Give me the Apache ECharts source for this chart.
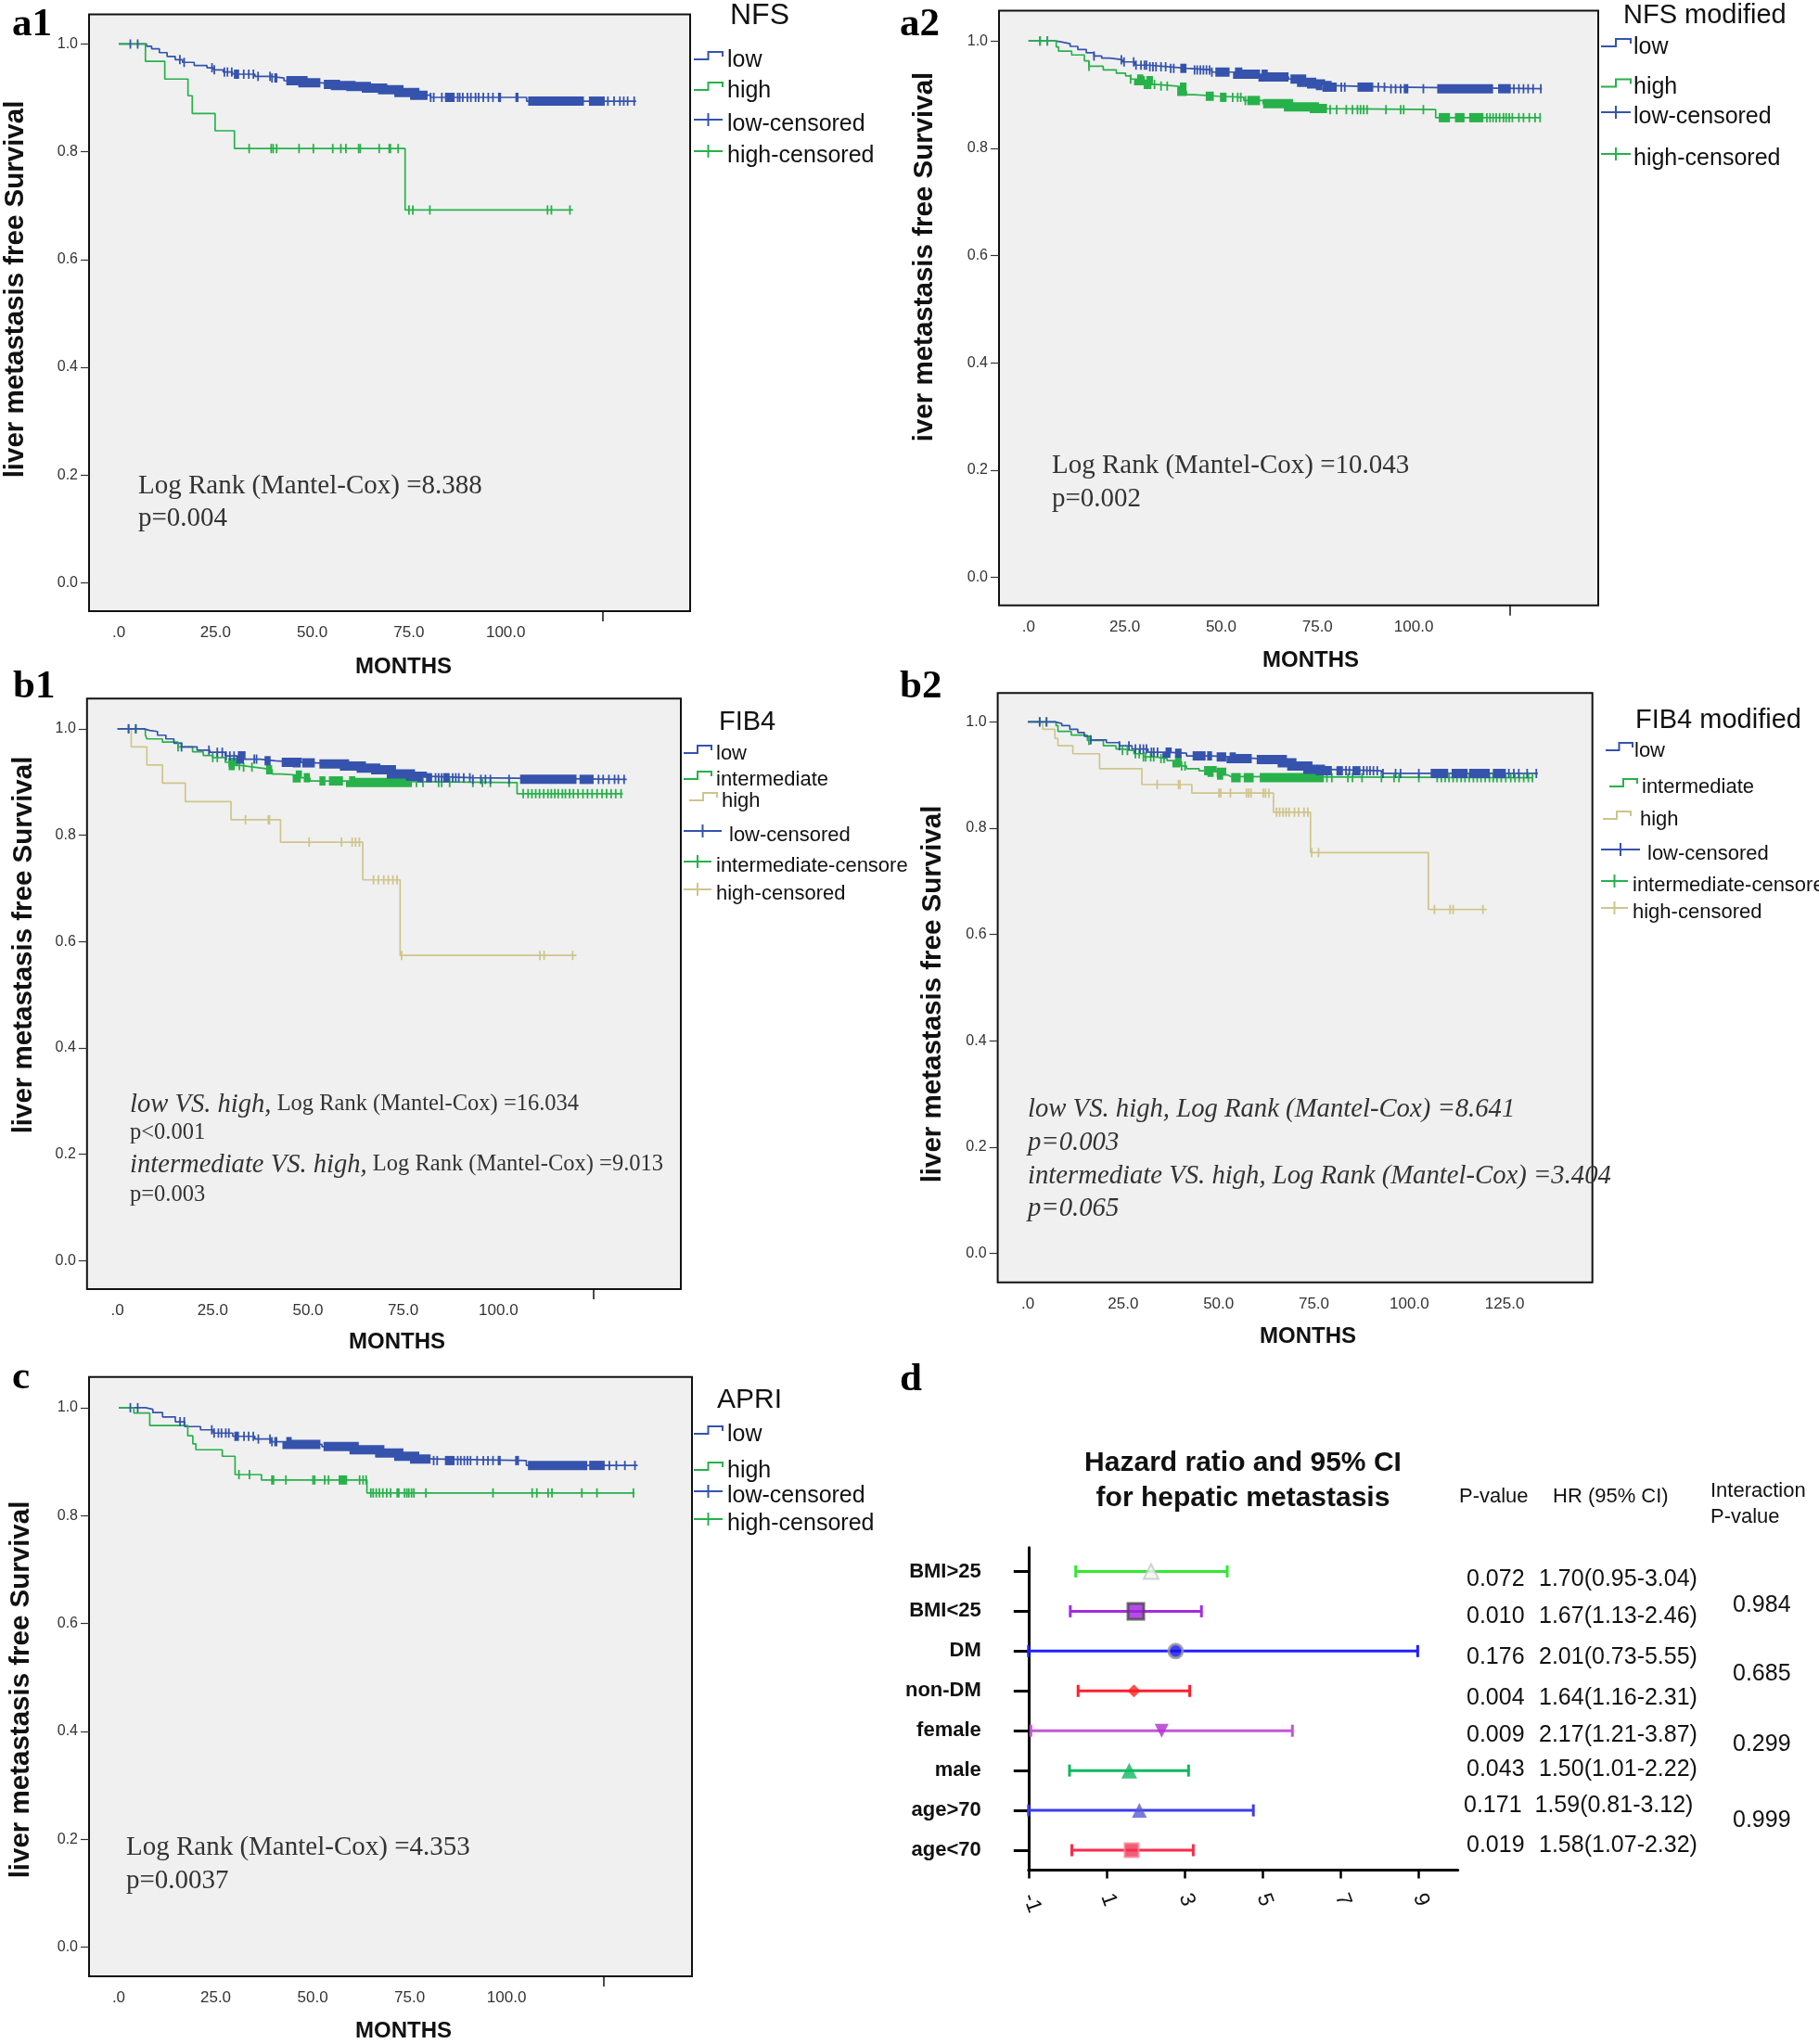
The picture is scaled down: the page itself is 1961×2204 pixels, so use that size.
<!DOCTYPE html>
<html>
<head>
<meta charset="utf-8">
<title>Liver metastasis free survival</title>
<script src="https://cdn.jsdelivr.net/npm/echarts@6.0.0/dist/echarts.min.js"></script>
<style>
html,body{margin:0;padding:0;background:#ffffff;}
#chart{width:1961px;height:2204px;}
</style>
</head>
<body>
<div id="chart"></div>
<script>
// ================= DATA =================
const monthLabels = [0, 25, 50, 75, 100];
const monthLabelsB2 = [0, 25, 50, 75, 100, 125];
const survLabels = [0, 0.2, 0.4, 0.6, 0.8, 1.0];

// ---- a1 : NFS ---- steps = [month, survival after event]; last point = end of follow-up
const a1LowSteps = [[0,1],[7.2,0.996],[8.5,0.991],[10.5,0.984],[12.5,0.977],[14.6,0.971],[16.5,0.966],[19.5,0.960],[22.8,0.956],[24.5,0.952],[27,0.948],[29.4,0.944],[35.2,0.940],[39.4,0.937],[42.7,0.932],[47.6,0.928],[52.6,0.925],[56,0.923],[60,0.921],[64,0.918],[68.2,0.915],[72.4,0.910],[76.5,0.905],[80.6,0.901],[105.4,0.894],[133.7,0.894]];
const a1LowCensor = [3.0,4.9,15.8,16.9,24.1,24.7,27.3,28.1,29.2,30.0,32.3,33.6,34.8,36.0,39.1,39.6,80.6,81.4,83.5,87.6,88.1,88.9,90.1,91.0,92.2,93.0,94.2,95.5,96.7,126.4,128.0,129.5,130.5,131.5,133.2];
const a1LowCensorRuns = [[29.9,31.1],[40.2,41.0],[43.3,52.1],[53.0,79.8],[84.3,86.8],[98.0,98.8],[102.5,103.3],[105.8,120.2],[121.5,125.6]];
const a1HighSteps = [[0,1],[6.9,0.968],[11.9,0.935],[17.9,0.904],[19.0,0.871],[24.9,0.839],[29.9,0.806],[74.0,0.692],[117.4,0.692]];
const a1HighCensor = [33.7,39.4,39.9,40.8,46.6,50.3,55.3,57.4,58.7,62.0,62.4,67.3,69.9,70.2,72.2,75.0,76.0,80.4,110.8,111.8,116.6];
const a1HighCensorRuns = [];

// ---- a2 : NFS modified ----
const a2LowSteps = [[0,1],[7.0,0.998],[8.7,0.995],[10.8,0.990],[12.8,0.984],[15,0.978],[17.0,0.972],[19,0.968],[21.1,0.965],[24.4,0.961],[27.7,0.955],[31.1,0.952],[36.0,0.949],[41.0,0.946],[47.6,0.942],[54.3,0.938],[60.9,0.933],[67.5,0.929],[70.9,0.923],[73.5,0.920],[75.8,0.917],[77.5,0.914],[93.2,0.911],[133.3,0.911]];
const a2LowCensor = [3.0,4.9,17.0,24.1,24.8,27.3,27.9,29.2,30.1,30.6,31.5,32.3,33.1,34.4,35.6,36.9,37.7,43.1,43.8,44.6,45.4,46.2,47.0,47.6,81.2,82.1,90.8,92.4,94.1,95.3,96.6,102.5,126.0,127.3,128.5,129.7,131.0,133.0];
const a2LowCensorRuns = [[39.4,41.0],[48.5,52.2],[53.6,60.1],[60.5,67.5],[68.0,76.3],[76.7,80.0],[85.4,89.5],[97.4,98.6],[106.1,120.6],[121.9,125.2]];
const a2HighSteps = [[0,1],[7.2,0.989],[7.8,0.981],[11.2,0.974],[14.5,0.963],[15.7,0.953],[19.4,0.946],[22.8,0.940],[25.2,0.935],[26.5,0.929],[28.6,0.926],[31.1,0.919],[33.5,0.916],[38.5,0.914],[39.8,0.906],[41.0,0.900],[43.1,0.897],[49.3,0.895],[55.9,0.889],[60.9,0.883],[67.5,0.877],[74.2,0.874],[77.5,0.872],[105.7,0.857],[133.0,0.857]];
const a2HighCensor = [3.0,4.9,15.7,26.5,32.7,34.4,36.0,53.0,54.3,55.1,56.3,78.3,80.0,82.5,84.1,85.4,86.2,87.0,87.9,92.8,96.6,97.4,102.5,119.0,119.8,120.6,121.4,122.3,123.3,124.0,124.8,125.6,127.3,128.5,130.0,131.5,132.8];
const a2HighCensorRuns = [[28.2,30.2],[30.6,31.9],[39.3,41.0],[46.0,48.1],[49.7,51.4],[56.8,60.1],[60.9,77.5],[106.5,109.4],[110.7,113.2],[114.4,118.1]];

// ---- b1 : FIB4 ----
const b1LowSteps = [[0,1],[6.9,0.997],[8.5,0.995],[10.5,0.988],[12.7,0.981],[14.8,0.973],[16.8,0.966],[20.9,0.960],[24.2,0.956],[28.3,0.949],[32.4,0.943],[37.4,0.940],[41.5,0.937],[47.2,0.936],[52.2,0.934],[59.6,0.930],[64,0.926],[67.8,0.923],[71.9,0.915],[76.9,0.911],[80,0.908],[93.3,0.905],[133.7,0.905]];
const b1LowCensor = [2.9,4.8,16.8,24.0,26.2,27.5,28.5,29.5,30.6,35.9,36.5,83.5,84.3,85.1,88.0,88.8,89.6,90.9,92.5,93.3,95.4,96.6,97.9,102.8,126.3,127.5,129.0,130.5,131.5,133.0];
const b1LowCensorRuns = [[31.6,33.2],[38.6,40.2],[43.1,48.1],[48.5,51.8],[53.0,80.2],[81.0,82.6],[85.5,87.2],[105.7,120.5],[121.3,125.0]];
const b1IntSteps = [[0,1],[7.3,0.989],[7.7,0.981],[11.8,0.975],[15.9,0.966],[19.7,0.957],[22.5,0.950],[25.0,0.946],[28.3,0.937],[30.4,0.931],[32.4,0.928],[35.7,0.925],[39.0,0.923],[40.6,0.915],[43.1,0.913],[47.2,0.908],[50.5,0.902],[61.2,0.899],[104.9,0.878],[132.7,0.878]];
const b1IntCensor = [2.9,4.8,15.9,25.0,26.2,32.0,33.1,35.3,78.5,80.2,84.3,85.1,87.2,93.3,95.8,97.9,102.8,106.5,107.8,108.8,109.8,110.8,111.9,113.0,113.9,114.8,115.7,116.8,117.6,118.7,119.7,120.9,122.2,123.4,124.6,125.9,127.2,128.4,129.6,130.8,132.2];
const b1IntCensorRuns = [[29.1,30.8],[39.0,40.6],[46.8,48.1],[48.9,50.5],[53.0,54.6],[55.5,59.2],[60.8,77.3]];
const b1HighSteps = [[0,1],[3.6,0.966],[7.7,0.932],[11.8,0.898],[17.8,0.863],[29.8,0.829],[42.8,0.787],[64.4,0.716],[74.2,0.574],[120.5,0.574]];
const b1HighCensor = [33.6,39.6,39.9,50.3,58.8,61.6,62.5,63.5,67.2,68.5,69.9,71.1,72.3,73.4,74.6,110.9,112.0,119.5];
const b1HighCensorRuns = [];

// ---- b2 : FIB4 modified ----
const b2LowSteps = [[0,1],[7.1,0.997],[8.9,0.993],[11,0.986],[13.1,0.980],[14.8,0.973],[16.5,0.966],[20.6,0.961],[24.0,0.955],[27.3,0.949],[31.5,0.943],[36.5,0.941],[41.6,0.936],[48.3,0.934],[53.3,0.931],[60.0,0.929],[66.7,0.923],[69.2,0.917],[73.4,0.911],[76.7,0.908],[92.7,0.903],[133.7,0.903]];
const b2LowCensor = [3.1,4.9,16.5,24.0,26.5,28.2,29.4,30.3,31.1,32.4,33.0,34.0,83.4,84.3,88.0,88.9,89.7,90.6,91.6,93.1,96.4,97.7,102.5,126.1,127.4,128.7,130.9,133.3];
const b2LowCensorRuns = [[36.1,37.4],[38.6,40.3],[43.2,46.6],[47.0,48.3],[49.5,52.0],[52.9,58.7],[60.0,79.7],[80.9,82.6],[85.1,87.2],[105.6,110.2],[111.1,115.3],[115.7,121.1],[121.9,125.3]];
const b2IntSteps = [[0,1],[7.4,0.993],[7.9,0.982],[11.4,0.975],[15.6,0.965],[19.8,0.955],[23.1,0.949],[24.8,0.946],[27.8,0.940],[30.3,0.934],[33.2,0.931],[36.5,0.927],[39.1,0.923],[39.9,0.917],[41.6,0.912],[44.9,0.908],[48.3,0.905],[50.8,0.900],[52.5,0.897],[53.3,0.895],[132.5,0.895]];
const b2IntCensor = [3.1,4.9,16.0,24.8,26.1,28.2,29.2,30.3,30.9,32.2,33.0,34.9,35.7,40.3,41.2,78.4,79.7,83.9,85.1,87.6,92.7,96.0,97.3,102.5,107.3,108.4,109.4,110.4,111.5,112.5,113.6,114.6,115.7,116.8,117.8,118.8,119.9,121.0,122.0,123.0,124.1,125.3,126.6,127.7,128.8,130.0,131.2,132.3];
const b2IntCensorRuns = [[38.6,39.9],[46.2,48.7],[49.5,51.2],[53.3,55.8],[56.6,59.2],[60.8,77.6]];
const b2HighSteps = [[0,1],[3.9,0.986],[7.1,0.969],[7.9,0.955],[11.8,0.940],[18.8,0.912],[29.9,0.882],[43.0,0.866],[64.4,0.830],[74.1,0.754],[105.0,0.647],[120.3,0.647]];
const b2HighCensor = [33.9,39.5,39.9,50.1,50.6,53.1,57.3,57.9,58.5,61.7,62.3,63.2,65.2,66.0,66.9,67.7,68.5,69.9,71.0,72.4,73.4,74.4,76.2,106.6,110.7,111.5,119.3];
const b2HighCensorRuns = [];

// ---- c : APRI ----
const cLowSteps = [[0,1],[6.9,0.997],[8.8,0.991],[11.3,0.983],[14.6,0.974],[17.0,0.965],[21.1,0.959],[24.4,0.953],[29.4,0.947],[35.1,0.942],[39.3,0.937],[43.4,0.932],[52.4,0.928],[60.7,0.922],[67.3,0.916],[72.2,0.910],[76.3,0.905],[80.4,0.902],[105.1,0.893],[133.8,0.893]];
const cLowCensor = [3.0,4.9,15.8,16.9,24.0,24.6,25.7,26.5,27.6,28.4,32.3,33.5,34.7,36.0,39.0,39.5,81.2,82.1,87.4,88.2,89.1,89.9,90.7,92.4,94.0,95.2,96.5,126.5,128.3,130.5,133.1];
const cLowCensorRuns = [[29.8,31.0],[40.1,40.9],[43.2,52.0],[52.8,80.4],[84.1,86.6],[97.7,98.5],[102.2,103.2],[105.5,120.8],[121.3,125.3]];
const cHighSteps = [[0,1],[3.9,0.990],[8.0,0.967],[17.8,0.948],[19.1,0.933],[19.9,0.922],[26.7,0.910],[30.0,0.876],[36.8,0.866],[64.0,0.842],[133.0,0.842]];
const cHighCensor = [31.0,33.7,39.5,39.9,43.1,50.1,50.5,53.1,54.1,62.1,63.0,63.8,65.0,65.6,66.4,67.2,68.1,69.1,70.1,71.8,72.2,73.7,74.3,74.8,75.5,76.1,79.2,96.5,106.6,107.8,110.7,111.7,119.4,123.3,132.7];
const cHighCensorRuns = [[56.7,58.9]];

// ---- annotations ----
const a1Stat = ['Log Rank (Mantel-Cox) =8.388', 'p=0.004'];
const a2Stat = ['Log Rank (Mantel-Cox) =10.043', 'p=0.002'];
const b1Stat = ['low VS. high,', ' Log Rank (Mantel-Cox) =16.034', 'p<0.001', 'intermediate VS. high,', ' Log Rank (Mantel-Cox) =9.013', 'p=0.003'];
const b2Stat = ['low VS. high, Log Rank (Mantel-Cox) =8.641', 'p=0.003', 'intermediate VS. high, Log Rank (Mantel-Cox) =3.404', 'p=0.065'];
const cStat = ['Log Rank (Mantel-Cox) =4.353', 'p=0.0037'];

// ---- d : forest plot ----
const fpCategories = ['BMI>25','BMI<25','DM','non-DM','female','male','age>70','age<70'];
const fpLow  = [0.21, 0.07, -1.00, 0.27, -0.94, 0.05, -1.00, 0.11];
const fpHigh = [4.09, 3.43,  8.97, 3.13,  5.76, 3.10,  4.76, 3.22];
const fpMid  = [2.14, 1.75,  2.77, 1.70,  2.41, 1.58,  1.84, 1.64];
const fpTicks = [-1, 1, 3, 5, 7, 9];
const fpPValues = ['0.072','0.010','0.176','0.004','0.009','0.043','0.171','0.019'];
const fpHR = ['1.70(0.95-3.04)','1.67(1.13-2.46)','2.01(0.73-5.55)','1.64(1.16-2.31)','2.17(1.21-3.87)','1.50(1.01-2.22)','1.59(0.81-3.12)','1.58(1.07-2.32)'];
const fpInteraction = ['0.984','0.685','0.299','0.999'];

// ================= STYLE =================
const SANS = "'Liberation Sans', Arial, Helvetica, sans-serif";
const SERIF = "'Liberation Serif', 'Times New Roman', serif";
const BLUE = '#3553ad', GREEN = '#27b14a', TAN = '#cfc58c';
const TXT = '#2a2a2a';

function survAt(steps, t) {
  let s = steps[0][1];
  for (const p of steps) { if (p[0] <= t) s = p[1]; else break; }
  return s;
}

const grids = [], xAxes = [], yAxes = [], series = [], graphics = [];

function tickRender(color) {
  return function (params, api) {
    const p = api.coord([api.value(0), api.value(1)]);
    return { type: 'line', shape: { x1: p[0], y1: p[1] - 5, x2: p[0], y2: p[1] + 5 },
      style: { stroke: color, lineWidth: 1.8 } };
  };
}
function runRender(steps, color) {
  return function (params, api) {
    const t1 = api.value(0), t2 = api.value(1);
    let s = survAt(steps, t1);
    const pts = [api.coord([t1, s])];
    for (const p of steps) {
      if (p[0] > t1 && p[0] < t2 && p[1] !== s) {
        pts.push(api.coord([p[0], s]));
        pts.push(api.coord([p[0], p[1]]));
        s = p[1];
      }
    }
    pts.push(api.coord([t2, s]));
    return { type: 'polyline', shape: { points: pts },
      style: { stroke: color, lineWidth: 10, fill: null, lineJoin: 'miter', lineCap: 'butt' } };
  };
}

function addPanel(idx, rect, xr, yr, xLabelVals, xTickVals, curves) {
  grids.push({ left: rect[0], top: rect[1], width: rect[2] - rect[0], height: rect[3] - rect[1],
    show: true, backgroundColor: '#f0f0f0', borderColor: '#111', borderWidth: 2 });
  xAxes.push({ type: 'value', gridIndex: idx, min: xr[0], max: xr[1],
    axisLine: { show: false, onZero: false }, splitLine: { show: false },
    axisTick: { show: xTickVals.length > 0, customValues: xTickVals, length: 11, lineStyle: { color: '#111', width: 1.5 } },
    axisLabel: { customValues: xLabelVals, formatter: v => (v === 0 ? '.0' : v.toFixed(1)),
      fontSize: 17, fontFamily: SANS, color: '#333', margin: 15 } });
  yAxes.push({ type: 'value', gridIndex: idx, min: yr[0], max: yr[1],
    axisLine: { show: false, onZero: false }, splitLine: { show: false },
    axisTick: { show: true, customValues: survLabels, length: 9, lineStyle: { color: '#333', width: 1.2 } },
    axisLabel: { customValues: survLabels, formatter: v => v.toFixed(1),
      fontSize: 16, fontFamily: SANS, color: '#333', margin: 12 } });
  for (const c of curves) {
    series.push({ type: 'line', xAxisIndex: idx, yAxisIndex: idx, data: c.steps, step: 'end',
      symbol: 'none', showSymbol: false, silent: true, z: 3,
      lineStyle: { color: c.color, width: 1.7 } });
    if (c.runs.length) {
      series.push({ type: 'custom', xAxisIndex: idx, yAxisIndex: idx, data: c.runs, silent: true, z: 4,
        renderItem: runRender(c.steps, c.color) });
    }
    series.push({ type: 'custom', xAxisIndex: idx, yAxisIndex: idx, silent: true, z: 4,
      data: c.censor.map(t => [t, survAt(c.steps, t)]), renderItem: tickRender(c.color) });
  }
}

function txt(x, y, text, size, opts) {
  opts = opts || {};
  return { type: 'text', x: x, y: y, rotation: opts.rotation || 0, z: 100,
    style: Object.assign({ text: text, fontSize: size, fontFamily: opts.family || SANS,
      fontWeight: opts.weight || 'normal', fontStyle: opts.style || 'normal',
      fill: opts.fill || TXT, align: opts.align || 'left', verticalAlign: 'middle' }, opts.extra || {}) };
}

function legend(titleText, tx, ty, tsize, items, fsize) {
  graphics.push(txt(tx, ty, titleText, tsize, { fill: '#111' }));
  for (const it of items) {
    const c = it.y, xm = (it.s1 + it.s2) / 2;
    if (it.kind === 'step') {
      graphics.push({ type: 'polyline', z: 100,
        shape: { points: [[it.s1, c - 1], [xm, c - 1], [xm, c - 9], [it.s2, c - 9], [it.s2, c - 4]] },
        style: { stroke: it.color, lineWidth: 2, fill: null } });
    } else {
      graphics.push({ type: 'line', z: 100, shape: { x1: it.s1, y1: c - 5, x2: it.s2, y2: c - 5 }, style: { stroke: it.color, lineWidth: 2 } });
      graphics.push({ type: 'line', z: 100, shape: { x1: xm, y1: c - 12, x2: xm, y2: c + 2 }, style: { stroke: it.color, lineWidth: 2 } });
    }
    const extra = it.maxW ? { width: it.maxW, overflow: 'truncate', ellipsis: '' } : {};
    graphics.push(txt(it.tx, c, it.label, fsize, { fill: '#111', extra: extra }));
  }
}

// ================= PANELS =================
addPanel(0, [96, 15.4, 744, 659], [-7.67, 147.65], [-0.0525, 1.0552], monthLabels, [125], [
  { steps: a1LowSteps, censor: a1LowCensor, runs: a1LowCensorRuns, color: BLUE },
  { steps: a1HighSteps, censor: a1HighCensor, runs: a1HighCensorRuns, color: GREEN }]);
addPanel(1, [1077, 11.6, 1723, 652.7], [-7.66, 147.9], [-0.0524, 1.0564], monthLabels, [125], [
  { steps: a2LowSteps, censor: a2LowCensor, runs: a2LowCensorRuns, color: BLUE },
  { steps: a2HighSteps, censor: a2HighCensor, runs: a2HighCensorRuns, color: GREEN }]);
addPanel(2, [93.8, 753.3, 734, 1390], [-8.01, 147.9], [-0.0534, 1.0568], monthLabels, [125], [
  { steps: b1HighSteps, censor: b1HighCensor, runs: b1HighCensorRuns, color: TAN },
  { steps: b1IntSteps, censor: b1IntCensor, runs: b1IntCensorRuns, color: GREEN },
  { steps: b1LowSteps, censor: b1LowCensor, runs: b1LowCensorRuns, color: BLUE }]);
addPanel(3, [1075.6, 747.2, 1716.7, 1382.7], [-7.9, 148.0], [-0.0544, 1.0544], monthLabelsB2, [], [
  { steps: b2HighSteps, censor: b2HighCensor, runs: b2HighCensorRuns, color: TAN },
  { steps: b2IntSteps, censor: b2IntCensor, runs: b2IntCensorRuns, color: GREEN },
  { steps: b2LowSteps, censor: b2LowCensor, runs: b2LowCensorRuns, color: BLUE }]);
addPanel(4, [96, 1484.7, 746, 2131], [-7.65, 147.8], [-0.0542, 1.0571], monthLabels, [125], [
  { steps: cLowSteps, censor: cLowCensor, runs: cLowCensorRuns, color: BLUE },
  { steps: cHighSteps, censor: cHighCensor, runs: cHighCensorRuns, color: GREEN }]);

// axis titles
const YT = 'liver metastasis free Survival';
graphics.push(txt(17, 312, YT, 29.5, { weight: 'bold', rotation: Math.PI / 2, align: 'center', fill: '#111' }));
graphics.push(txt(997, 277, 'iver metastasis free Survival', 29.5, { weight: 'bold', rotation: Math.PI / 2, align: 'center', fill: '#111' }));
graphics.push(txt(26, 1019, YT, 29.5, { weight: 'bold', rotation: Math.PI / 2, align: 'center', fill: '#111' }));
graphics.push(txt(1006, 1072, YT, 29.5, { weight: 'bold', rotation: Math.PI / 2, align: 'center', fill: '#111' }));
graphics.push(txt(23, 1822, YT, 29.5, { weight: 'bold', rotation: Math.PI / 2, align: 'center', fill: '#111' }));
[[435, 719], [1413, 712], [428, 1447], [1410, 1441], [435, 2190]].forEach(p =>
  graphics.push(txt(p[0], p[1], 'MONTHS', 24, { weight: 'bold', align: 'center', fill: '#111' })));

// panel letters
[['a1', 13, 27], ['a2', 970, 27], ['b1', 14, 741], ['b2', 970, 741], ['c', 13, 1486], ['d', 970, 1488]].forEach(p =>
  graphics.push(txt(p[1], p[2], p[0], 43, { family: SERIF, weight: 'bold', fill: '#000' })));

// legends
legend('NFS', 787, 17, 32, [
  { label: 'low', color: BLUE, kind: 'step', y: 65, s1: 748, s2: 779, tx: 784 },
  { label: 'high', color: GREEN, kind: 'step', y: 98, s1: 748, s2: 779, tx: 784 },
  { label: 'low-censored', color: BLUE, kind: 'cross', y: 134, s1: 748, s2: 779, tx: 784 },
  { label: 'high-censored', color: GREEN, kind: 'cross', y: 168, s1: 748, s2: 779, tx: 784 }], 25);
legend('NFS modified', 1750, 17, 29, [
  { label: 'low', color: BLUE, kind: 'step', y: 51, s1: 1726, s2: 1758, tx: 1761 },
  { label: 'high', color: GREEN, kind: 'step', y: 94.5, s1: 1726, s2: 1758, tx: 1761 },
  { label: 'low-censored', color: BLUE, kind: 'cross', y: 126, s1: 1726, s2: 1758, tx: 1761 },
  { label: 'high-censored', color: GREEN, kind: 'cross', y: 171, s1: 1726, s2: 1758, tx: 1761 }], 25);
legend('FIB4', 775, 779, 29, [
  { label: 'low', color: BLUE, kind: 'step', y: 813, s1: 737, s2: 767, tx: 772 },
  { label: 'intermediate', color: GREEN, kind: 'step', y: 841, s1: 737, s2: 767, tx: 772 },
  { label: 'high', color: TAN, kind: 'step', y: 864, s1: 743, s2: 773, tx: 778 },
  { label: 'low-censored', color: BLUE, kind: 'cross', y: 901, s1: 737, s2: 778, tx: 786 },
  { label: 'intermediate-censored', color: GREEN, kind: 'cross', y: 934, s1: 737, s2: 767, tx: 772, maxW: 214 },
  { label: 'high-censored', color: TAN, kind: 'cross', y: 964, s1: 737, s2: 767, tx: 772 }], 22);
legend('FIB4 modified', 1763, 777, 29, [
  { label: 'low', color: BLUE, kind: 'step', y: 810, s1: 1731, s2: 1760, tx: 1762 },
  { label: 'intermediate', color: GREEN, kind: 'step', y: 849, s1: 1735, s2: 1765, tx: 1770 },
  { label: 'high', color: TAN, kind: 'step', y: 884, s1: 1728, s2: 1758, tx: 1768 },
  { label: 'low-censored', color: BLUE, kind: 'cross', y: 921, s1: 1726, s2: 1768, tx: 1776 },
  { label: 'intermediate-censored', color: GREEN, kind: 'cross', y: 955, s1: 1726, s2: 1755, tx: 1760 },
  { label: 'high-censored', color: TAN, kind: 'cross', y: 984, s1: 1726, s2: 1755, tx: 1760 }], 22);
legend('APRI', 773, 1510, 30, [
  { label: 'low', color: BLUE, kind: 'step', y: 1547, s1: 748, s2: 779, tx: 784 },
  { label: 'high', color: GREEN, kind: 'step', y: 1586, s1: 748, s2: 779, tx: 784 },
  { label: 'low-censored', color: BLUE, kind: 'cross', y: 1613, s1: 748, s2: 779, tx: 784 },
  { label: 'high-censored', color: GREEN, kind: 'cross', y: 1643, s1: 748, s2: 779, tx: 784 }], 25);

// statistics annotations
const SER = { family: SERIF, fill: '#333' };
graphics.push(txt(149, 524, a1Stat[0], 29, SER), txt(149, 559, a1Stat[1], 29, SER));
graphics.push(txt(1134, 502, a2Stat[0], 29, SER), txt(1134, 538, a2Stat[1], 29, SER));
graphics.push(txt(136, 1992, cStat[0], 29, SER), txt(136, 2028, cStat[1], 29, SER));
const richB1 = { i: { fontFamily: SERIF, fontStyle: 'italic', fontSize: 28.6, fill: '#333' },
                 r: { fontFamily: SERIF, fontSize: 24.5, fill: '#333' } };
graphics.push(txt(140, 1191, '{i|' + b1Stat[0] + '}{r|' + b1Stat[1] + '}', 24.5, { family: SERIF, extra: { rich: richB1 } }));
graphics.push(txt(140, 1222, b1Stat[2], 24.5, SER));
graphics.push(txt(140, 1256, '{i|' + b1Stat[3] + '}{r|' + b1Stat[4] + '}', 24.5, { family: SERIF, extra: { rich: richB1 } }));
graphics.push(txt(140, 1289, b1Stat[5], 24.5, SER));
const IT = { family: SERIF, style: 'italic', fill: '#333' };
graphics.push(txt(1108, 1196, b2Stat[0], 28.7, IT), txt(1108, 1232, b2Stat[1], 28.7, IT),
              txt(1108, 1268, b2Stat[2], 28.7, IT), txt(1108, 1303, b2Stat[3], 28.7, IT));

// ================= FOREST PLOT (d) =================
const FP_COLORS = ['#33e833', '#a52be0', '#1f1fff', '#ff1f2f', '#c455d4', '#10b860', '#3b3bee', '#ff2a4a'];
const FP_SYMBOLS = ['triangle', 'rect', 'circle', 'diamond', 'path://M0,0L10,0L5,9Z', 'triangle', 'triangle', 'rect'];
const FP_SIZES = [16, 17, 15, 14, 15, 17, 16, 15];
const FP_ITEM = [
  { color: '#f2f2f2', borderColor: '#c8c8c8', borderWidth: 2 },
  { color: '#a020e0', borderColor: '#4a4a4a', borderWidth: 3 },
  { color: '#1010ee', borderColor: '#9a9a9a', borderWidth: 3 },
  { color: '#ff2020' },
  { color: '#b030d0' },
  { color: '#10b860' },
  { color: '#5a5ad8' },
  { color: '#ee3355', borderColor: '#ff8899', borderWidth: 2 }];
grids.push({ left: 1108.8, top: 1668.7, width: 462.9, height: 347.8, show: false });
xAxes.push({ type: 'value', gridIndex: 5, min: -1, max: 10,
  axisLine: { onZero: false, lineStyle: { color: '#000', width: 3 } }, splitLine: { show: false },
  axisTick: { customValues: fpTicks, length: 9, lineStyle: { color: '#000', width: 2.5 } },
  axisLabel: { customValues: fpTicks, rotate: -70, fontSize: 23, fontFamily: SANS, color: '#111', margin: 26 } });
yAxes.push({ type: 'value', gridIndex: 5, min: -0.6, max: 7.5, inverse: true,
  axisLine: { onZero: false, lineStyle: { color: '#000', width: 3 } }, splitLine: { show: false },
  axisTick: { customValues: [0, 1, 2, 3, 4, 5, 6, 7], length: 16, lineStyle: { color: '#000', width: 3 } },
  axisLabel: { customValues: [0, 1, 2, 3, 4, 5, 6, 7], formatter: v => fpCategories[Math.round(v)],
    fontSize: 22, fontWeight: 'bold', fontFamily: SANS, color: '#111', margin: 51 } });
series.push({ type: 'custom', xAxisIndex: 5, yAxisIndex: 5, silent: true, z: 4,
  data: fpCategories.map((c, i) => [fpLow[i], fpHigh[i], i]),
  renderItem: function (params, api) {
    const i = api.value(2);
    const a = api.coord([api.value(0), i]), b = api.coord([api.value(1), i]);
    const st = { stroke: FP_COLORS[i], lineWidth: 3 };
    return { type: 'group', children: [
      { type: 'line', shape: { x1: a[0], y1: a[1], x2: b[0], y2: b[1] }, style: st },
      { type: 'line', shape: { x1: a[0], y1: a[1] - 6.5, x2: a[0], y2: a[1] + 6.5 }, style: st },
      { type: 'line', shape: { x1: b[0], y1: b[1] - 6.5, x2: b[0], y2: b[1] + 6.5 }, style: st }] };
  } });
series.push({ type: 'scatter', xAxisIndex: 5, yAxisIndex: 5, silent: true, z: 5,
  data: fpMid.map((m, i) => ({ value: [m, i], symbol: FP_SYMBOLS[i], symbolSize: FP_SIZES[i], itemStyle: FP_ITEM[i] })) });

graphics.push(txt(1340, 1578, 'Hazard ratio and 95% CI', 30, { weight: 'bold', align: 'center', fill: '#111' }));
graphics.push(txt(1340, 1616, 'for hepatic metastasis', 30, { weight: 'bold', align: 'center', fill: '#111' }));
graphics.push(txt(1573, 1614, 'P-value', 22, { fill: '#111' }));
graphics.push(txt(1674, 1614, 'HR (95% CI)', 22, { fill: '#111' }));
graphics.push(txt(1844, 1608, 'Interaction', 22, { fill: '#111' }));
graphics.push(txt(1844, 1636, 'P-value', 22, { fill: '#111' }));
const fpRowY = [1703, 1743, 1787, 1831, 1871, 1908, 1947, 1990];
fpPValues.forEach((p, i) => {
  const shift = i === 6 ? -3 : 0;
  graphics.push(txt(1581 + shift, fpRowY[i], p, 25, { fill: '#111' }));
  graphics.push(txt(1659 + shift * 1.5, fpRowY[i], fpHR[i], 25, { fill: '#111' }));
});
const fpIntY = [1731, 1805, 1881, 1963];
fpInteraction.forEach((p, i) => graphics.push(txt(1868, fpIntY[i], p, 25, { fill: '#111' })));

// ================= RENDER =================
const chart = echarts.init(document.getElementById('chart'), null, { renderer: 'canvas', width: 1961, height: 2204 });
chart.setOption({
  animation: false,
  backgroundColor: '#ffffff',
  grid: grids, xAxis: xAxes, yAxis: yAxes, series: series, graphic: graphics
});
</script>
</body>
</html>
